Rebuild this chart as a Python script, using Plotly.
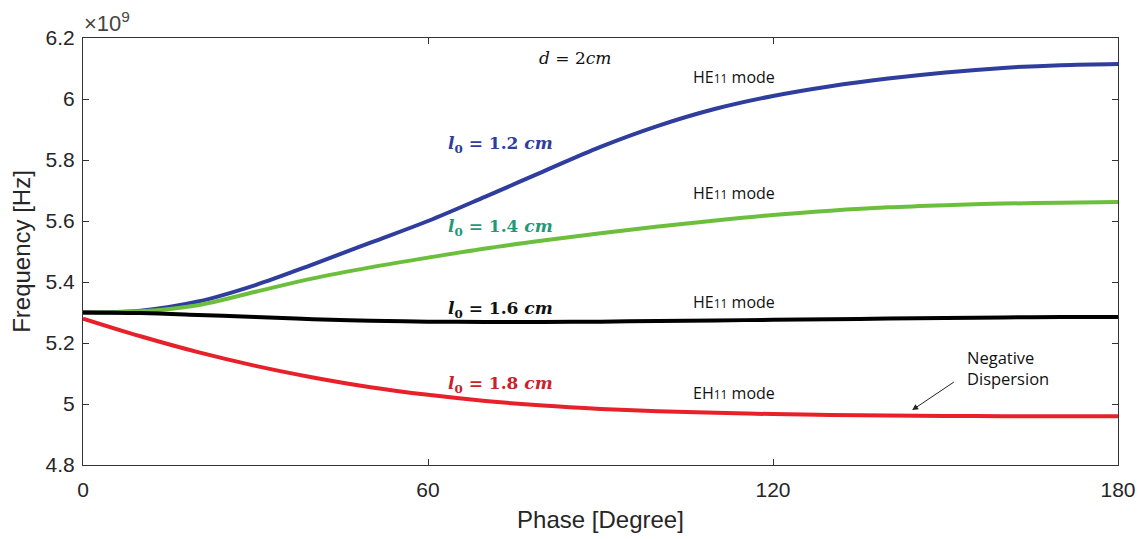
import plotly.graph_objects as go

# Phase advance per cell (degrees)
phase = [0, 10, 20, 30, 40, 50, 60, 70, 80, 90, 100, 110, 120, 130, 140, 150, 160, 170, 180]

# Frequency in units of 1e9 Hz for each groove length l0
freq_l12 = [5.300, 5.306, 5.336, 5.390, 5.458, 5.529, 5.600, 5.680, 5.762, 5.843,
            5.912, 5.968, 6.010, 6.042, 6.067, 6.087, 6.102, 6.111, 6.115]
freq_l14 = [5.300, 5.304, 5.324, 5.368, 5.412, 5.448, 5.480, 5.510, 5.536, 5.560,
            5.582, 5.602, 5.620, 5.634, 5.645, 5.652, 5.657, 5.660, 5.662]
freq_l16 = [5.300, 5.298, 5.292, 5.285, 5.278, 5.273, 5.270, 5.269, 5.269, 5.270,
            5.272, 5.274, 5.276, 5.278, 5.280, 5.282, 5.284, 5.285, 5.285]
freq_l18 = [5.280, 5.222, 5.170, 5.125, 5.087, 5.055, 5.030, 5.010, 4.995, 4.984,
            4.976, 4.971, 4.967, 4.964, 4.962, 4.961, 4.960, 4.960, 4.960]

x_ticks = [0, 60, 120, 180]
y_ticks = [4.8, 5.0, 5.2, 5.4, 5.6, 5.8, 6.0, 6.2]
y_tick_text = ["4.8", "5", "5.2", "5.4", "5.6", "5.8", "6", "6.2"]

series = [
    (freq_l12, "#2f3d9c"),
    (freq_l14, "#6cbf3c"),
    (freq_l16, "#000000"),
    (freq_l18, "#e8202a"),
]

fig = go.Figure()
for ys, col in series:
    fig.add_trace(go.Scatter(x=phase, y=ys, mode="lines",
                             line=dict(color=col, width=4, shape="spline", smoothing=1.0),
                             showlegend=False, hoverinfo="skip"))

serif = "DejaVu Serif"
sans = "Open Sans"

def l0_label(val, col, y):
    fig.add_annotation(
        x=63.2, y=y, xanchor="left", yanchor="middle", showarrow=False,
        text=f"<b><i>l</i><sub>0</sub> = {val} <i>cm</i></b>",
        font=dict(family=serif, size=17, color=col))

l0_label("1.2", "#2f3d9c", 5.85)
l0_label("1.4", "#1f9a78", 5.58)
l0_label("1.6", "#111111", 5.31)
l0_label("1.8", "#c8232b", 5.063)

def mode_label(name, y):
    fig.add_annotation(
        x=113.2, y=y, xanchor="center", yanchor="middle", showarrow=False,
        text=name[:2] + "<span style='font-size:12px'>11</span> mode",
        font=dict(family=sans, size=16, color="#111111"))

mode_label("HE", 6.073)
mode_label("HE", 5.693)
mode_label("HE", 5.335)
mode_label("EH", 5.036)

fig.add_annotation(x=85.6, y=6.135, xanchor="center", yanchor="middle", showarrow=False,
                   text="<i>d</i> = 2<i>cm</i>",
                   font=dict(family=serif, size=17, color="#111111"))

fig.add_annotation(x=160.9, y=5.117, xanchor="center", yanchor="middle", showarrow=False,
                   text="Negative<br>Dispersion", align="left",
                   font=dict(family=sans, size=16.5, color="#111111"))

fig.add_annotation(x=144.2, y=4.98, ax=151.7, ay=5.075, xref="x", yref="y",
                   axref="x", ayref="y", showarrow=True, arrowhead=2, arrowsize=1.2,
                   arrowwidth=1, arrowcolor="#222222", text="")

fig.add_annotation(xref="paper", yref="paper", x=0.0, y=1.0, xanchor="left", yanchor="bottom",
                   xshift=-1, yshift=0, showarrow=False, text="×10<sup>9</sup>",
                   font=dict(family="Liberation Sans", size=22, color="#444444"))

axis_common = dict(showgrid=False, zeroline=False, showline=True, linecolor="#333333",
                   linewidth=1, mirror="ticks", ticks="inside", ticklen=6,
                   tickcolor="#333333",
                   tickfont=dict(family="Liberation Sans", size=21, color="#262626"))

fig.update_xaxes(range=[0, 180], tickvals=x_ticks, ticklabelstandoff=6,
                 title=dict(text="Phase [Degree]", standoff=10,
                            font=dict(family="Liberation Sans", size=24, color="#262626")),
                 **axis_common)
fig.update_yaxes(range=[4.8, 6.2], tickvals=y_ticks, ticktext=y_tick_text,
                 ticklabelstandoff=3,
                 title=dict(text="Frequency [Hz]", standoff=8,
                            font=dict(family="Liberation Sans", size=24, color="#262626")),
                 **axis_common)

fig.update_layout(width=1147, height=539, plot_bgcolor="white", paper_bgcolor="white",
                  margin=dict(l=83, r=29, t=38, b=74))

fig.write_html("out.html")
